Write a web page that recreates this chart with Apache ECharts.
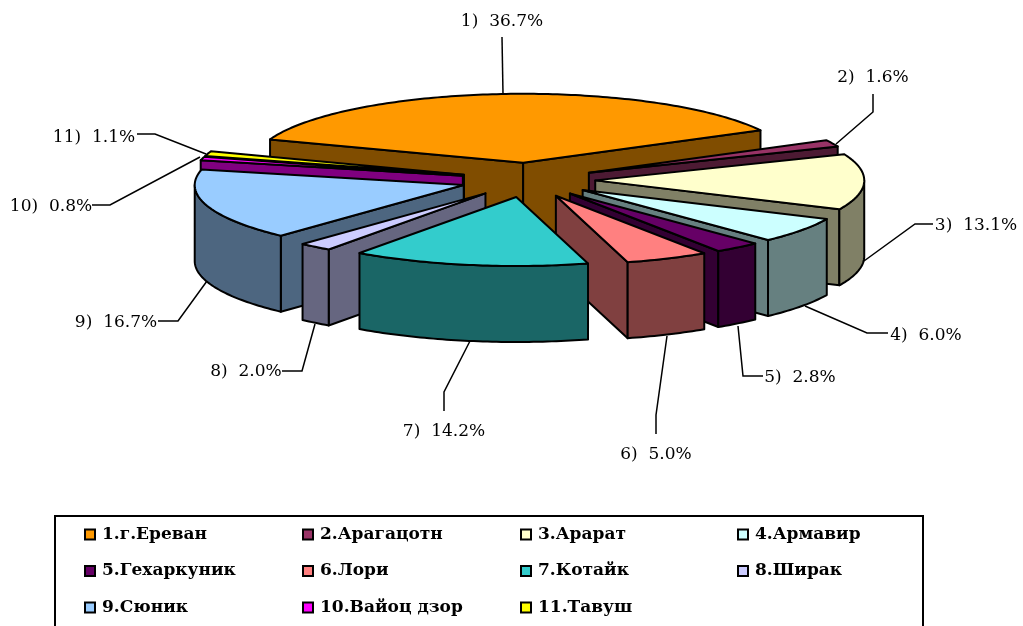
<!DOCTYPE html>
<html>
<head>
<meta charset="utf-8">
<style>
  html, body { margin: 0; padding: 0; background: #fff; overflow: hidden; }
  #chart { width: 1023px; height: 626px; }
</style>
<script src="https://cdn.jsdelivr.net/npm/echarts@6/dist/echarts.min.js"></script>
</head>
<body>
<div id="chart"></div>
<script>
// data
const regions = ['1.г.Ереван', '2.Арагацотн', '3.Арарат', '4.Армавир', '5.Гехаркуник', '6.Лори',
    '7.Котайк', '8.Ширак', '9.Сюник', '10.Вайоц дзор', '11.Тавуш'];
const shares = [36.7, 1.6, 13.1, 6.0, 2.8, 5.0, 14.2, 2.0, 16.7, 0.8, 1.1];
const topColors = ['#FF9900', '#993366', '#FFFFCC', '#CCFFFF', '#660066', '#FF8080',
    '#33CCCC', '#CCCCFF', '#99CCFF', '#FF00FF', '#FFFF00'];

// pie geometry
const centerX = 528, centerY = 180;
const radiusX = 269, radiusY = 69, depth = 76;
const explode = 0.25;
const firstAngle = -70.2;
// painter's order, back slices first
const drawOrder = [0, 10, 9, 1, 2, 8, 3, 7, 4, 5, 6];

// leader line + label placement, same order as regions
const leaders = [
    { text: [502, 22], line: [[502, 37], [503, 94]] },
    { text: [873, 78], line: [[873, 94], [873, 112], [836, 144]] },
    { text: [976, 226], line: [[933, 224], [915, 224], [864, 261]] },
    { text: [926, 336], line: [[888, 333], [867, 333], [805, 306]] },
    { text: [800, 378], line: [[763, 376], [743, 376], [738, 326]] },
    { text: [656, 455], line: [[656, 434], [656, 415], [667, 336]] },
    { text: [444, 432], line: [[444, 411], [444, 392], [470, 341]] },
    { text: [246, 372], line: [[282, 371], [302, 371], [315, 324]] },
    { text: [116, 323], line: [[158, 321], [178, 321], [207, 281]] },
    { text: [51, 207], line: [[92, 205], [110, 205], [200, 157]] },
    { text: [94, 138], line: [[137, 134], [155, 134], [206, 154]] }
];

function darken(hex) {
    const n = parseInt(hex.slice(1), 16);
    const half = v => Math.round(v / 2);
    return 'rgb(' + half(n >> 16) + ',' + half((n >> 8) & 255) + ',' + half(n & 255) + ')';
}

// angle in degrees, clockwise from the top of the pie
function rim(apex, deg, drop) {
    const a = deg * Math.PI / 180;
    return [apex[0] + radiusX * Math.sin(a), apex[1] - radiusY * Math.cos(a) + (drop || 0)];
}

function arcPoints(apex, from, to, drop) {
    const pts = [];
    const steps = Math.max(2, Math.ceil(Math.abs(to - from)));
    for (let i = 0; i <= steps; i++) {
        pts.push(rim(apex, from + (to - from) * i / steps, drop));
    }
    return pts;
}

function face(points, fill) {
    return {
        type: 'polygon',
        shape: { points: points },
        style: { fill: fill, stroke: '#000', lineWidth: 2, lineJoin: 'round' }
    };
}

function sliceRenderer(index) {
    return function (params, api) {
        let before = 0;
        for (let i = 0; i < index; i++) before += shares[i];
        const from = firstAngle + before * 3.6;
        const to = from + api.value(0) * 3.6;
        const mid = (from + to) / 2 * Math.PI / 180;
        const apex = [centerX + explode * radiusX * Math.sin(mid), centerY - explode * radiusY * Math.cos(mid)];
        const low = [apex[0], apex[1] + depth];
        const side = darken(topColors[index]);
        const children = [];

        // radial walls, only those turned towards the viewer
        if (Math.sin(from * Math.PI / 180) < 0) {
            const p = rim(apex, from);
            children.push(face([apex, p, [p[0], p[1] + depth], low], side));
        }
        if (Math.sin(to * Math.PI / 180) > 0) {
            const p = rim(apex, to);
            children.push(face([apex, p, [p[0], p[1] + depth], low], side));
        }
        // outer wall: front half of the rim only
        const ranges = [[90, 270], [450, 630]];
        ranges.forEach(function (r) {
            const a = Math.max(from, r[0]);
            const b = Math.min(to, r[1]);
            if (b > a) {
                const upper = arcPoints(apex, a, b, 0);
                const lower = arcPoints(apex, b, a, depth);
                children.push(face(upper.concat(lower), side));
            }
        });
        // top
        children.push(face([apex].concat(arcPoints(apex, from, to, 0)), topColors[index]));
        return { type: 'group', children: children };
    };
}

function leaderRenderer(params, api) {
    const i = params.dataIndex;
    const item = leaders[i];
    return {
        type: 'group',
        children: [
            {
                type: 'polyline',
                shape: { points: item.line },
                style: { fill: 'none', stroke: '#000', lineWidth: 1.5 }
            },
            {
                type: 'text',
                style: {
                    x: item.text[0],
                    y: item.text[1],
                    text: (i + 1) + ')  ' + api.value(0).toFixed(1) + '%',
                    align: 'center',
                    verticalAlign: 'middle',
                    font: '17px "DejaVu Serif"',
                    fill: '#000'
                }
            }
        ]
    };
}

const chart = echarts.init(document.getElementById('chart'));

const series = [{
    name: 'labels',
    type: 'custom',
    coordinateSystem: 'none',
    renderItem: leaderRenderer,
    silent: true,
    data: shares.map(v => [v])
}];
drawOrder.forEach(function (i) {
    series.push({
        name: regions[i],
        type: 'custom',
        coordinateSystem: 'none',
        renderItem: sliceRenderer(i),
        itemStyle: { color: topColors[i] },
        data: [[shares[i]]]
    });
});

function legendColumn(left, names) {
    return {
        orient: 'vertical',
        left: left,
        top: 521,
        itemWidth: 10,
        itemHeight: 10,
        itemGap: 19.5,
        icon: 'rect',
        selectedMode: false,
        itemStyle: { borderColor: '#000', borderWidth: 2 },
        textStyle: { fontFamily: 'DejaVu Serif', fontWeight: 'bold', fontSize: 17, color: '#000', padding: [0, 0, 0, 2] },
        data: names
    };
}

chart.setOption({
    animation: false,
    backgroundColor: '#fff',
    tooltip: { show: false },
    graphic: [{
        type: 'rect',
        shape: { x: 55, y: 516, width: 868, height: 130 },
        style: { fill: 'none', stroke: '#000', lineWidth: 2 },
        silent: true
    }],
    legend: [
        legendColumn(79, [regions[0], regions[4], regions[8]]),
        legendColumn(297, [regions[1], regions[5], regions[9]]),
        legendColumn(515, [regions[2], regions[6], regions[10]]),
        legendColumn(732, [regions[3], regions[7]])
    ],
    series: series
});

window.addEventListener('resize', function () {
    chart.resize();
});
</script>
</body>
</html>
